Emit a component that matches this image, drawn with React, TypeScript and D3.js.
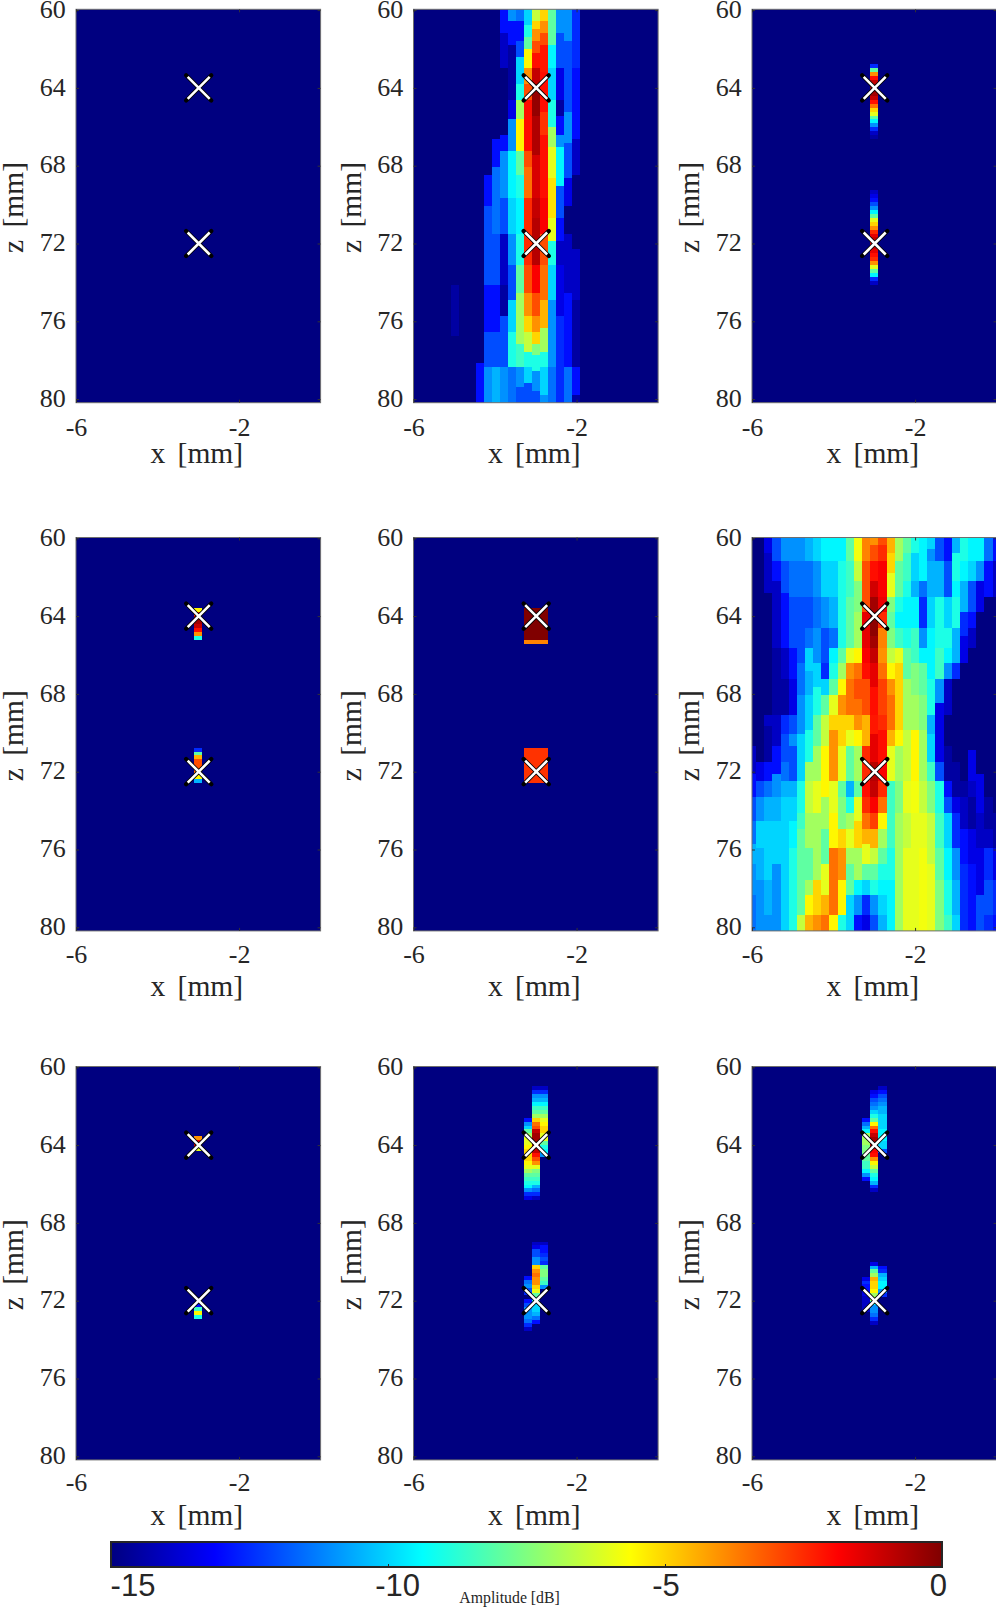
import React, { useEffect, useRef } from "react";
import * as d3 from "d3";

// x [mm] and z [mm] ticks
const xTicks = [-6, -2];
const zTicks = [60, 64, 68, 72, 76, 80];
const targetX = -3;
const targetZ = [64, 72];
const barTicks = [-15, -10, -5, 0];

// jet stops, in dB
const jetStops = [-15, -13.125, -9.375, -5.625, -1.875, 0];
const jetColors = ["#000080", "#0000ff", "#00ffff", "#ffff00", "#ff0000", "#800000"];

// image cells: [column, first row, dB of each row going down]
type Blob = [number, number, number[]];
// image cells: [column, [dB, until row, dB, until row, ...]] from row 0
type Bands = [number, number[]];

const blobsA: Blob[] = [];

const bandsB: Bands[] = [
  [5, [-15, 70, -14.5, 83]],
  [8, [-15, 90, -13, 100]],
  [9, [-15, 42, -13, 50, -12, 70, -13, 82, -12, 91, -11, 100]],
  [10, [-15, 33, -13, 40, -11.5, 57, -12, 70, -13, 82, -12, 91, -10.5, 100]],
  [11, [-13, 6, -14, 15, -15, 32, -13, 36, -11, 48, -12, 57, -14, 70, -14.5, 78, -12, 91, -11, 100]],
  [12, [-11, 3, -13, 9, -14.5, 23, -13.5, 28, -11, 36, -9.5, 48, -10, 57, -11, 65, -12, 74, -10, 82, -9, 91, -11.5, 100]],
  [13, [-11.5, 3, -13, 8, -12, 12, -10, 19, -9, 23, -7, 28, -5.5, 36, -8, 42, -9, 48, -9.5, 57, -9, 65, -8, 72, -7, 85, -8.5, 91, -11, 96, -12, 100]],
  [14, [-10, 4, -9, 7, -8, 10, -5.5, 15, -4, 19, -3, 23, -2, 36, -3, 40, -3.5, 48, -2.5, 65, -3, 72, -4, 78, -5, 82, -6.5, 87, -9, 91, -10, 95, -12, 100]],
  [15, [-6.5, 3, -5, 5, -4, 8, -3, 11, -2, 15, -1, 19, -0.3, 27, -0.7, 37, -1.3, 48, -1, 53, -0.8, 65, -1.8, 72, -3, 78, -4, 82, -5, 85, -7.5, 88, -9, 92, -11, 97, -12, 100]],
  [16, [-5, 3, -4, 6, -3, 9, -2.2, 16, -2, 26, -2.6, 32, -2, 48, -1.8, 57, -3, 65, -3.5, 74, -4.5, 81, -7, 87, -9, 91, -10, 98, -11, 100]],
  [17, [-8, 9, -9.5, 15, -10, 23, -9, 30, -7, 35, -6, 43, -5.2, 53, -6, 59, -9, 65, -10, 74, -11, 91, -11.5, 100]],
  [18, [-11, 6, -12, 15, -13.5, 23, -14.5, 27, -13, 32, -11, 35, -9.5, 45, -12, 53, -13, 59, -14, 65, -13.5, 78, -12.5, 100]],
  [19, [-11, 8, -12, 26, -11, 34, -12, 43, -13.5, 50, -15, 57, -14, 72, -13, 91, -11.5, 100]],
  [20, [-12.5, 15, -13, 33, -14, 42, -15, 61, -14, 74, -14.5, 91, -13, 98, -14.5, 100]],
];

const blobsC: Blob[] = [
  [15, 14, [-12.5, -8, -4, -2, -1, -0.5, -0.2, -0.5, -1, -2, -3.5, -5, -6, -8, -9.5, -11, -12.5, -14, -14.5]],
  [15, 46, [-14, -13.5, -13, -12, -11, -9.5, -8, -6, -5, -4, -2.5, -1.5, -1, -1, -1, -1.5, -2, -2.5, -4, -6, -8, -9.5, -12.5, -14]],
];

const blobsD: Blob[] = [
  [15, 18, [-5.5, -2.5, -0.5, -0.5, -1, -2, -4, -9]],
  [15, 53.4, [-12.5, -8, -4.5, -3, -3, -3, -3.5, -5.5, -10.5]],
];

const blobsE: Blob[] = [
  [14, 18, [0, 0, 0, 0, 0, 0, 0, 0, -3.8]],
  [15, 18, [0, 0, 0, 0, 0, 0, 0, 0, -3.8]],
  [16, 18, [0, 0, 0, 0, 0, 0, 0, 0, -3.8]],
  [14, 53.4, [-2.6, -2.6, -2.6, -2.6, -2.6, -2.6, -2.6, -2.6, -2.6]],
  [15, 53.4, [-2.6, -2.6, -2.6, -2.6, -2.6, -2.6, -2.6, -2.6, -2.6]],
  [16, 53.4, [-2.6, -2.6, -2.6, -2.6, -2.6, -2.6, -2.6, -2.6, -2.6]],
];

const bandsF: Bands[] = [
  [0, [-15, 53, -14, 60, -13, 66, -12, 72, -11.5, 78, -10.5, 83, -11, 91, -11.5, 100]],
  [1, [-15, 57, -13.5, 62, -12, 66, -11, 72, -10, 79, -10.5, 87, -11, 96, -11, 100]],
  [2, [-13.5, 4, -14, 14, -15, 45, -14, 48, -14.5, 57, -13, 62, -11.5, 66, -10.5, 72, -10, 87, -10.5, 96, -11, 100]],
  [3, [-12, 6, -13, 11, -14, 28, -14.5, 45, -14, 53, -13, 60, -11, 66, -10.5, 72, -10, 83, -11, 100]],
  [4, [-11, 6, -12, 14, -13, 28, -14, 36, -14.5, 45, -12.5, 50, -12, 57, -11.5, 62, -10.5, 66, -10, 100]],
  [5, [-11, 6, -11.5, 15, -12, 28, -13, 36, -13.5, 45, -12, 50, -11, 53, -12, 62, -10.5, 66, -10, 72, -9.5, 79, -9, 100]],
  [6, [-11, 6, -11.5, 15, -12, 32, -11.5, 40, -11, 50, -10, 62, -9, 70, -8.5, 74, -8, 96, -6.5, 100]],
  [7, [-10.5, 6, -11.5, 15, -12, 23, -11.5, 28, -10, 34, -10.5, 40, -10, 49, -9, 57, -7, 62, -6.5, 70, -7, 79, -8, 87, -7, 91, -5.5, 96, -4.5, 100]],
  [8, [-10, 6, -11, 15, -11.5, 23, -11, 32, -10, 38, -9, 45, -8, 53, -7, 62, -6, 70, -7, 87, -5, 96, -4, 100]],
  [9, [-9.5, 6, -10, 15, -11, 23, -12, 32, -12.5, 36, -10, 40, -8, 45, -6.5, 53, -5.5, 66, -7, 74, -8, 83, -6, 91, -4.5, 96, -3.5, 100]],
  [10, [-9.5, 6, -10, 15, -10.5, 23, -11.5, 28, -9.5, 32, -9, 36, -8, 40, -6, 45, -5, 49, -4, 62, -6, 70, -5.5, 79, -3.5, 96, -5.5, 100]],
  [11, [-9.5, 6, -9, 28, -8, 32, -7, 36, -5.5, 40, -4, 45, -5, 53, -6, 62, -8, 66, -7.5, 74, -5, 79, -4, 87, -5.5, 96, -9, 100]],
  [12, [-8, 6, -8.5, 15, -8, 28, -6, 32, -4, 36, -3.5, 45, -5, 49, -6, 53, -8, 62, -10.5, 66, -9, 70, -7, 74, -6, 79, -7, 83, -8, 91, -10, 100]],
  [13, [-5.8, 6, -6.5, 11, -7.5, 19, -7, 28, -5.5, 32, -3.5, 36, -3, 41, -3.5, 45, -4, 49, -5.5, 53, -7, 62, -8, 66, -6, 72, -5, 79, -7, 87, -9.5, 91, -11, 96, -13, 100]],
  [14, [-3.8, 6, -3, 19, -1.5, 28, -1.8, 32, -2, 36, -3, 45, -4.5, 53, -2.5, 62, -2, 66, -2.5, 70, -3.5, 74, -4.5, 78, -6, 83, -8, 87, -10, 91, -12.5, 96, -13.5, 100]],
  [15, [-4, 2, -3, 6, -2, 11, -1.2, 15, -0.5, 19, -0.2, 25, -0.5, 28, -1, 32, -1.5, 38, -2, 45, -2.2, 50, -1.5, 57, -0.8, 62, -1, 66, -1.8, 70, -2.8, 74, -4.5, 79, -6.5, 83, -8, 87, -9, 91, -11, 96, -12, 100]],
  [16, [-3, 2, -2.5, 6, -1.8, 15, -1.6, 19, -2.5, 23, -3.8, 28, -4, 32, -3.5, 36, -2.8, 45, -2.5, 49, -2, 57, -1.8, 62, -2.5, 66, -3.5, 70, -5.5, 74, -7, 79, -8, 83, -9, 87, -9.5, 91, -10, 96, -10.5, 100]],
  [17, [-4.5, 4, -5, 9, -6, 15, -7.5, 19, -8, 23, -7.5, 28, -6.5, 32, -5.5, 36, -4, 40, -3.5, 49, -4.5, 53, -6, 62, -8.5, 79, -9, 87, -9.5, 100]],
  [18, [-7, 6, -8, 15, -9, 19, -9.5, 23, -8.5, 28, -6, 32, -5, 49, -5.5, 53, -7, 62, -7.5, 70, -7, 100]],
  [19, [-8, 4, -8.5, 11, -9, 15, -9.5, 23, -9, 28, -8, 36, -7, 49, -6.5, 62, -6, 70, -6.5, 79, -6, 100]],
  [20, [-9, 4, -10, 11, -10.5, 15, -9.5, 23, -8.5, 32, -7.5, 40, -7, 49, -5.5, 62, -5.8, 70, -6, 100]],
  [21, [-9.5, 11, -11.5, 15, -12.5, 23, -11, 28, -9.5, 32, -8, 40, -7.5, 49, -7, 62, -6.5, 70, -6, 79, -5.8, 100]],
  [22, [-10, 3, -11, 6, -10.5, 15, -10, 23, -9.5, 36, -9, 45, -10.5, 50, -10, 57, -8.5, 62, -7.5, 70, -6.5, 83, -6, 100]],
  [23, [-12, 6, -10.5, 15, -9, 28, -8.5, 36, -11, 42, -13.5, 57, -12, 62, -9, 70, -8.5, 79, -8, 87, -7.5, 100]],
  [24, [-13, 6, -12, 15, -10, 23, -9, 28, -9.5, 32, -11, 36, -14, 45, -15, 53, -14.5, 62, -13, 66, -12, 70, -10, 79, -9.5, 87, -9, 96, -8.5, 100]],
  [25, [-10.5, 4, -9, 11, -9.5, 15, -9, 23, -10.5, 32, -12.5, 36, -15, 57, -14.5, 66, -13.5, 70, -12.5, 79, -11, 87, -10.5, 96, -10, 100]],
  [26, [-9, 6, -9.5, 11, -10.5, 19, -12.5, 25, -13.5, 32, -15, 62, -14.5, 66, -14, 74, -13, 83, -12.5, 100]],
  [27, [-9.5, 6, -10, 11, -12, 19, -13, 23, -14, 28, -15, 54, -13.5, 62, -14, 66, -14.5, 74, -13.5, 83, -13, 100]],
  [28, [-9.5, 6, -11, 11, -13.5, 19, -15, 60, -13.5, 70, -14, 79, -13.5, 91, -12, 100]],
  [29, [-11.5, 6, -13, 15, -15, 66, -14.5, 74, -14, 79, -12.5, 87, -12, 96, -12.5, 100]],
  [30, [-13, 6, -14, 15, -15, 70, -14.5, 79, -13.5, 87, -12.5, 96, -13, 100]],
];

const blobsG: Blob[] = [
  [15, 17.6, [-4, -1.5, -1, -6]],
  [15, 60.1, [-13, -8.5, -5.5, -9]],
];

const blobsH: Blob[] = [
  [16, 5, [-14, -12.5, -11, -10.5, -9.5, -8.5, -8, -7, -6, -5.5, -5, -5, -6, -6, -8, -9, -9.5, -11]],
  [15, 5, [-14, -12.5, -11, -10.5, -9.5, -8.5, -8, -7, -5, -3.5, -3, -1, -0.5, -0.5, -0.3, -1, -1, -2, -3, -4, -6, -7.5, -8, -8.5, -9, -10.5, -11.5, -12.5, -14]],
  [14, 13, [-13, -11, -10, -8, -7, -6, -6, -5.5, -5, -5, -5, -5.5, -6, -7, -8, -8.5, -9, -9.5, -11, -12.5, -13.5]],
  [16, 44.5, [-14, -13, -13, -12.5, -12, -12.5, -8, -7.5, -7.5, -8, -8.5, -11]],
  [15, 44.5, [-14, -13.5, -12, -12, -11, -11, -5, -4, -3.5, -4, -4, -5, -6, -8, -9, -10, -10, -10, -10.5, -11.5, -13]],
  [14, 53.2, [-13, -11.5, -11, -12, -12.5, -15, -13, -12, -11, -11, -11, -11.5, -12.5, -14]],
];

const blobsI: Blob[] = [
  [16, 5, [-14, -13, -12, -11.5, -11, -10.5, -10.5, -10, -10, -10, -10, -9.5, -9.5, -9.5, -10, -10, -12]],
  [15, 6, [-13.5, -13, -12, -11.5, -11, -10, -9, -8, -5.5, -3.5, -2, -1, -0.5, -0.5, -0.8, -1.8, -2, -4, -5.5, -6.5, -8, -9, -9.5, -10.5, -12.5, -14]],
  [14, 13, [-13, -11.5, -10.5, -9.5, -7, -7, -7, -7.5, -7.5, -8, -8, -8.5, -8.5, -9.5, -11, -13]],
  [15, 49.6, [-13.5, -10.5, -8, -7, -4.5, -5, -5, -5.5, -7, -7, -9.5, -11, -11, -11.5, -12.5, -14]],
  [16, 50.6, [-13, -12.5, -10.5, -10, -9.5, -9.5, -11, -12.5]],
  [14, 53.4, [-13.5, -12.5, -13, -13, -13.5, -14, -14, -14, -14]],
];

// [x origin mm, column pitch mm] differ a little on the second panel
const panels: { blobs?: Blob[]; bands?: Bands[]; x0?: number; pitch?: number }[] = [
  { blobs: blobsA },
  { bands: bandsB, x0: -6.055, pitch: 0.197 },
  { blobs: blobsC },
  { blobs: blobsD },
  { blobs: blobsE },
  { bands: bandsF },
  { blobs: blobsG },
  { blobs: blobsH },
  { blobs: blobsI },
];

const W = 996;
const H = 1607;
const colLeft = [76, 413.5, 752];
const rowTop = [9.3, 537.5, 1066.5];
const panelW = 244.6;
const panelH = 393.4;
const rowPitch = 0.2; // mm per image row
const ink = "#262626";
const serif = "'Liberation Serif', serif";
const sans = "'Liberation Sans', sans-serif";

// the x ticks and x label do not sit at the same distance in every row
const xTickPad = [14.5, 13.5, 12.5];
const xLabelGap = [60.6, 64.6, 64.6];

const App = () => {
  const ref = useRef<SVGSVGElement>(null);

  useEffect(() => {
    const svg = d3.select(ref.current);
    svg.selectAll("*").remove();

    const jet = d3.scaleLinear<string>().domain(jetStops).range(jetColors).clamp(true);

    const defs = svg.append("defs");
    defs.append("filter").attr("id", "soft").append("feGaussianBlur").attr("stdDeviation", 0.5);
    const grad = defs.append("linearGradient").attr("id", "jet");
    grad
      .selectAll("stop")
      .data(jetStops)
      .enter()
      .append("stop")
      .attr("offset", (d) => (d + 15) / 15)
      .attr("stop-color", (d) => jet(d));

    panels.forEach((panel, i) => {
      const left = colLeft[i % 3];
      const row = Math.floor(i / 3);
      const top = rowTop[row];
      const x = d3.scaleLinear().domain([-6, 0]).range([0, panelW]);
      // the axis runs a bit short of the image frame
      const z = d3.scaleLinear().domain([60, 80]).range([0.8, 389.8]);
      // image rows fill the frame
      const rowY = d3.scaleLinear().domain([0, 100]).range([0, panelH]);
      const x0 = panel.x0 ?? -6.1;
      const pitch = panel.pitch ?? rowPitch;

      // flatten into one list of cells
      const cells: { col: number; r0: number; r1: number; dB: number }[] = [];
      (panel.blobs ?? []).forEach(([col, start, values]) => {
        values.forEach((dB, k) => cells.push({ col, r0: start + k, r1: start + k + 1, dB }));
      });
      (panel.bands ?? []).forEach(([col, runs]) => {
        let from = 0;
        for (let k = 0; k < runs.length; k += 2) {
          cells.push({ col, r0: from, r1: runs[k + 1], dB: runs[k] });
          from = runs[k + 1];
        }
      });

      const g = svg.append("g").attr("transform", `translate(${left},${top})`);
      const clipId = `clip-${i}`;
      g.append("clipPath").attr("id", clipId).append("rect").attr("width", panelW).attr("height", panelH);

      const image = g.append("g").attr("clip-path", `url(#${clipId})`).append("g").attr("filter", "url(#soft)");
      image.append("rect").attr("x", -4).attr("y", -4).attr("width", panelW + 8).attr("height", panelH + 8).attr("fill", jet(-15));
      image
        .selectAll("rect.cell")
        .data(cells)
        .enter()
        .append("rect")
        .attr("class", "cell")
        .attr("x", (d) => x(x0 + d.col * pitch))
        .attr("width", x(pitch) - x(0))
        .attr("y", (d) => rowY(d.r0))
        .attr("height", (d) => rowY(d.r1) - rowY(d.r0))
        .attr("fill", (d) => jet(d.dB))
        .attr("shape-rendering", "crispEdges");

      // scatterer markers: black x with a white x on top
      const arm = (half: number) =>
        `M${-half},${-half}L${half},${half}M${-half},${half}L${half},${-half}`;
      targetZ.forEach((tz) => {
        const m = g.append("g").attr("transform", `translate(${x(targetX) + 0.4},${z(tz)})`);
        m.append("path").attr("d", arm(12.6)).attr("stroke", "#000").attr("stroke-width", 4.2).attr("stroke-linecap", "round").attr("fill", "none");
        m.append("path").attr("d", arm(11)).attr("stroke", "#fff").attr("stroke-width", 2.6).attr("fill", "none");
      });

      g.append("rect")
        .attr("width", panelW)
        .attr("height", panelH)
        .attr("fill", "none")
        .attr("stroke", "#6e6e6e")
        .attr("stroke-width", 1);

      const styleAxis = (a: d3.Selection<SVGGElement, unknown, null, undefined>) => {
        a.select(".domain").remove();
        a.selectAll("line").attr("stroke", "#333");
        a.selectAll("text").attr("fill", ink).attr("font-family", serif).attr("font-size", 26);
      };
      const dropText = (a: d3.Selection<SVGGElement, unknown, null, undefined>) => {
        a.selectAll("text").remove();
      };

      g.append("g")
        .call(d3.axisLeft(z).tickValues(zTicks).tickSizeInner(-3).tickSizeOuter(0).tickPadding(10.3))
        .call(styleAxis as any)
        .selectAll("text")
        .attr("dy", "0.28em");
      g.append("g")
        .attr("transform", `translate(${panelW},0)`)
        .call(d3.axisRight(z).tickValues(zTicks).tickSizeInner(-3).tickSizeOuter(0))
        .call(styleAxis as any)
        .call(dropText as any);
      g.append("g")
        .attr("transform", `translate(0,${panelH})`)
        .call(d3.axisBottom(x).tickValues(xTicks).tickSizeInner(-3).tickSizeOuter(0).tickPadding(xTickPad[row]).tickFormat((d) => String(d)))
        .call(styleAxis as any);
      g.append("g")
        .call(d3.axisTop(x).tickValues(xTicks).tickSizeInner(-3).tickSizeOuter(0))
        .call(styleAxis as any)
        .call(dropText as any);

      g.append("text")
        .attr("x", panelW / 2 - 1.5)
        .attr("y", panelH + xLabelGap[row])
        .attr("text-anchor", "middle")
        .attr("fill", ink)
        .attr("font-family", serif)
        .attr("font-size", 29.5)
        .attr("word-spacing", 5)
        .text("x [mm]");
      g.append("text")
        .attr("transform", `translate(-53,${panelH / 2 + 1.5}) rotate(-90)`)
        .attr("text-anchor", "middle")
        .attr("fill", ink)
        .attr("font-family", serif)
        .attr("font-size", 29.5)
        .attr("word-spacing", 5)
        .text("z [mm]");
    });

    // colour bar
    const bar = { left: 111, right: 942, top: 1542, bottom: 1567 };
    const c = d3.scaleLinear().domain([-15, 0]).range([bar.left, bar.right]);
    svg
      .append("rect")
      .attr("x", bar.left)
      .attr("y", bar.top)
      .attr("width", bar.right - bar.left)
      .attr("height", bar.bottom - bar.top)
      .attr("fill", "url(#jet)")
      .attr("stroke", ink)
      .attr("stroke-width", 2);
    const barAxis = svg.append("g").attr("transform", `translate(0,${bar.bottom})`);
    barAxis.call(d3.axisBottom(c).tickValues(barTicks.slice(1, 3)).tickSizeInner(-3).tickSizeOuter(0).tickFormat(() => ""));
    barAxis.select(".domain").remove();
    barAxis.selectAll("line").attr("stroke", ink);
    barAxis.selectAll("text").remove();

    // the bar's labels sit a little off their ticks in the picture
    const barLabelX = [133, 397.6, 666, 938.4];
    svg
      .append("g")
      .selectAll("text")
      .data(barTicks)
      .enter()
      .append("text")
      .attr("x", (_, k) => barLabelX[k])
      .attr("y", 1596)
      .attr("text-anchor", "middle")
      .attr("fill", ink)
      .attr("font-family", sans)
      .attr("font-size", 31)
      .text((d) => String(d));
    svg
      .append("text")
      .attr("x", 509.6)
      .attr("y", 1603)
      .attr("text-anchor", "middle")
      .attr("fill", ink)
      .attr("font-family", serif)
      .attr("font-size", 15.8)
      .text("Amplitude [dB]");
  }, []);

  return (
    <svg
      ref={ref}
      width={W}
      height={H}
      viewBox={`0 0 ${W} ${H}`}
      style={{ position: "absolute", left: 0, top: 0, background: "#fff", display: "block" }}
    />
  );
};

export default App;
